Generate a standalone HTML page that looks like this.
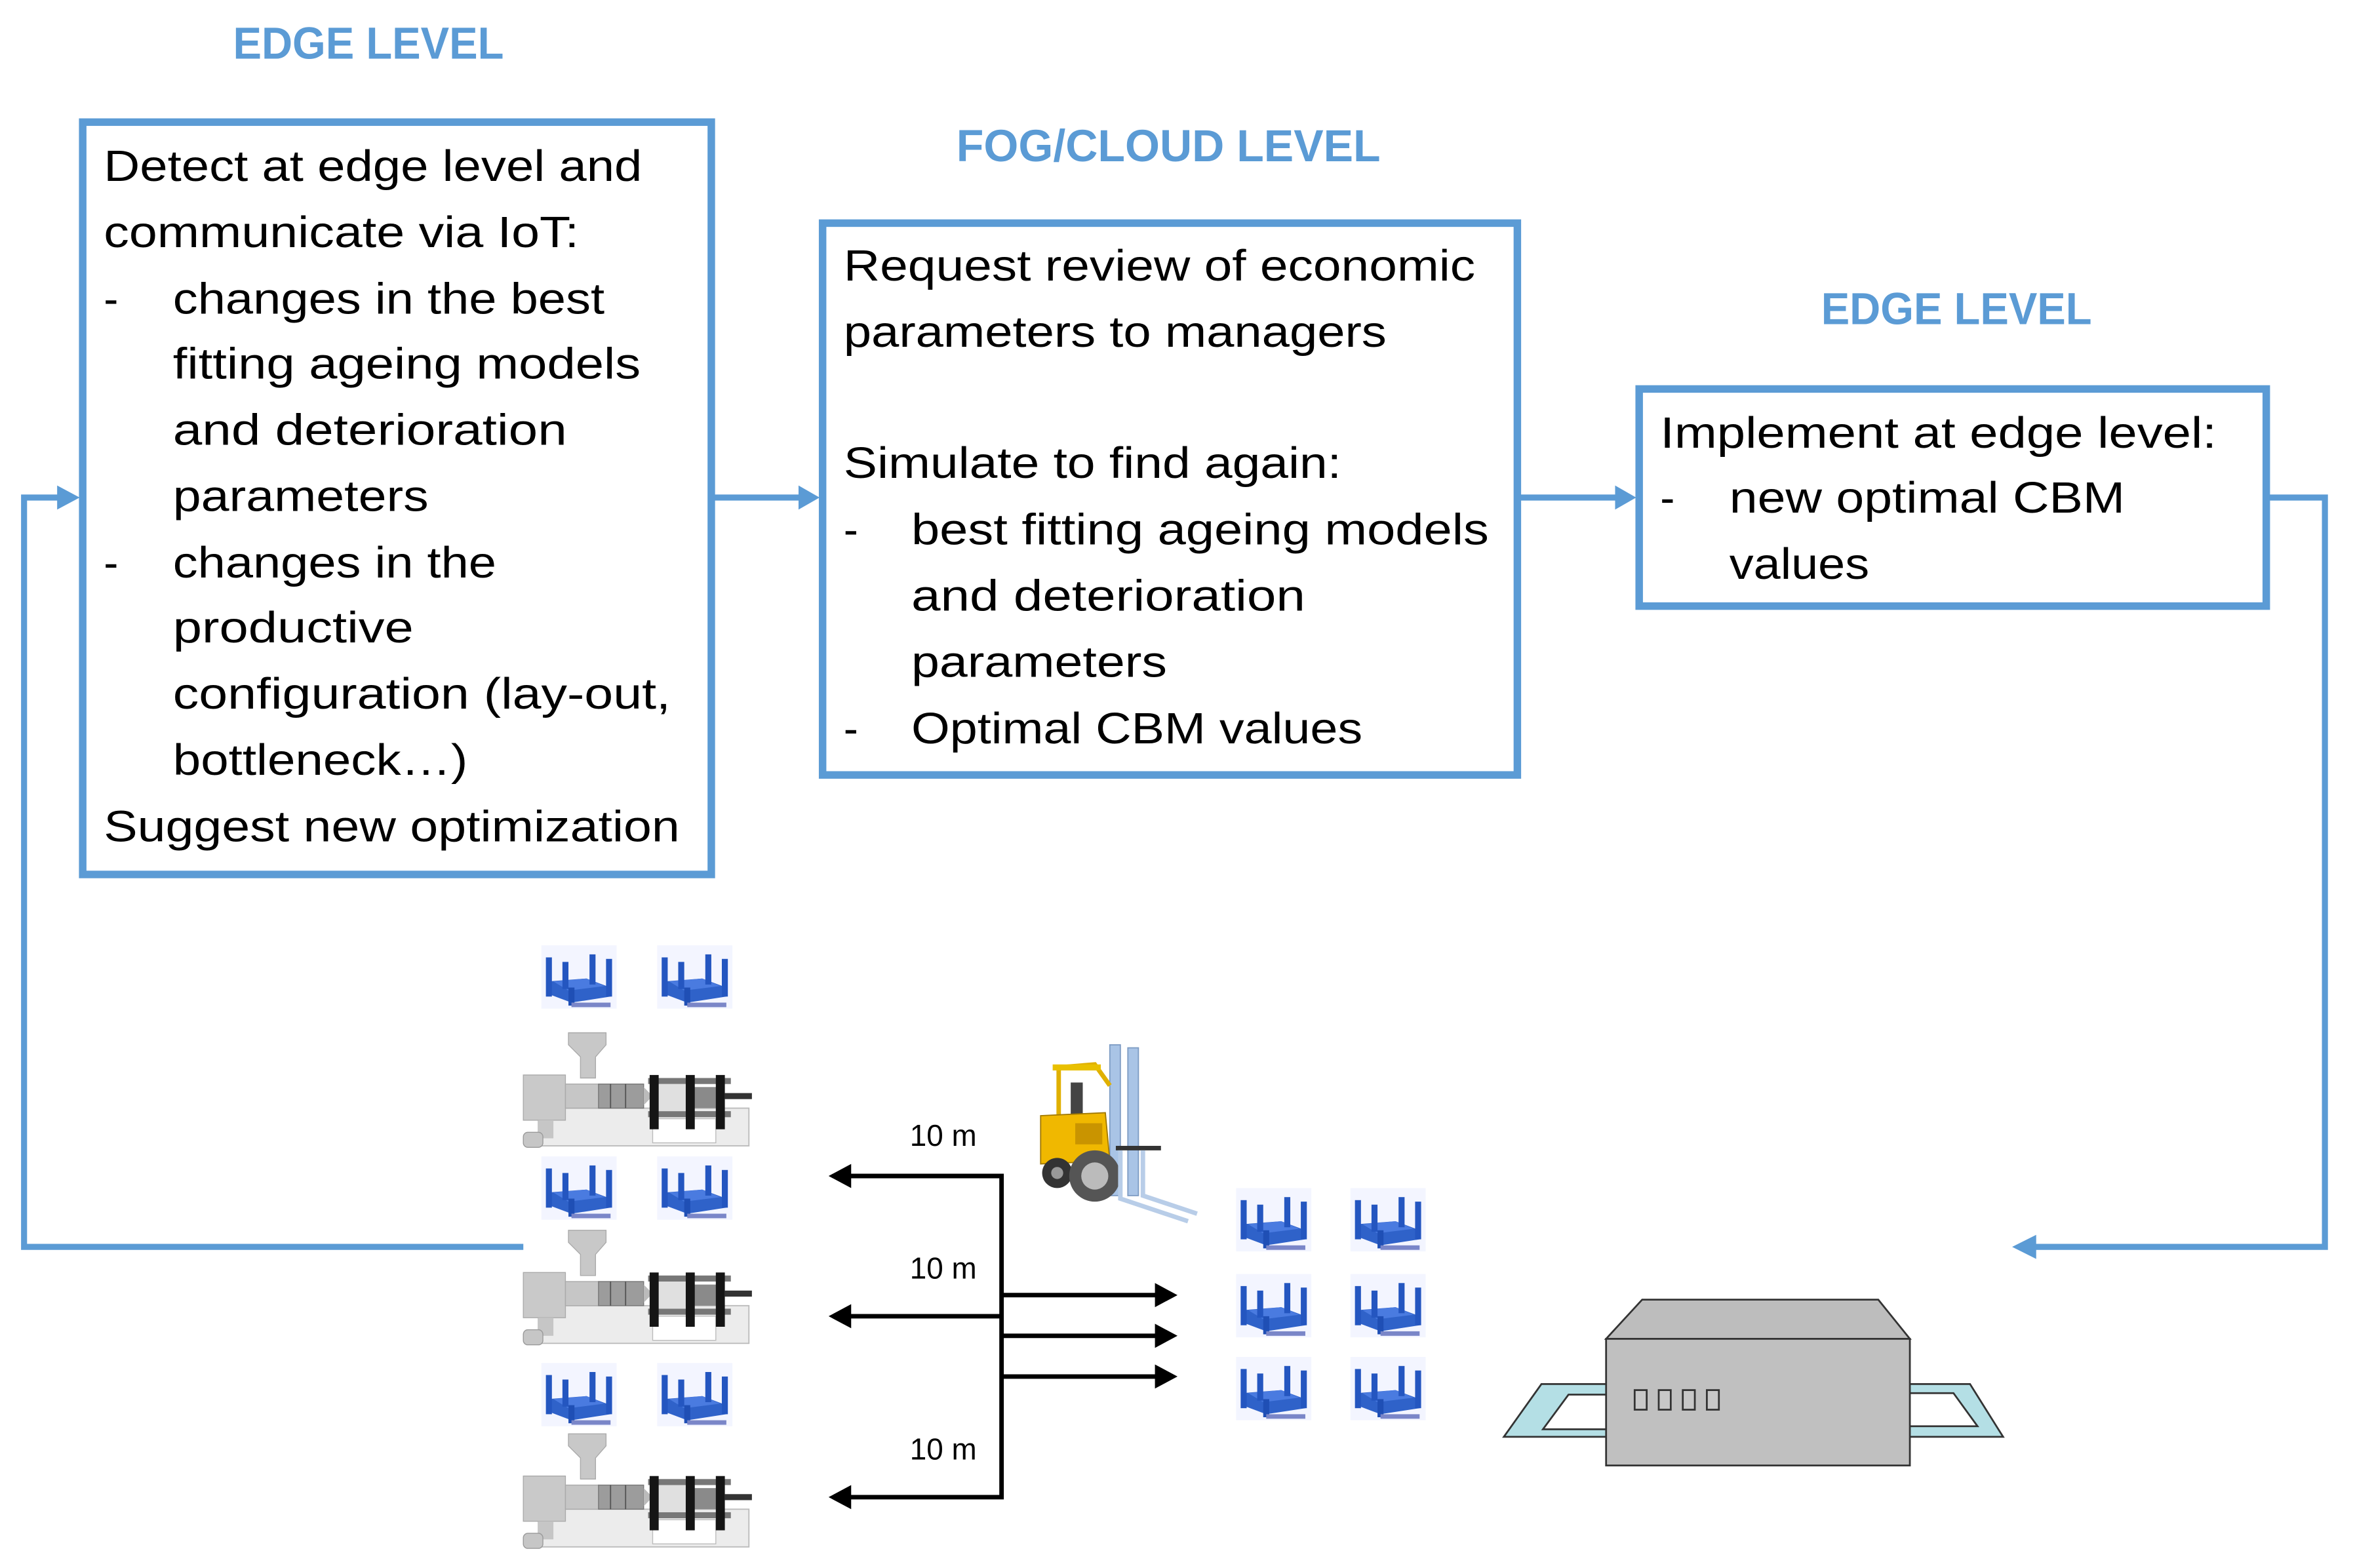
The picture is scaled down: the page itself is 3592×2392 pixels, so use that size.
<!DOCTYPE html>
<html><head><meta charset="utf-8"><style>
html,body{margin:0;padding:0;background:#fff;}
svg{display:block;}
text{font-family:"Liberation Sans",sans-serif;}
</style></head><body>
<svg width="3592" height="2392" viewBox="0 0 1566 1040" preserveAspectRatio="none" xmlns="http://www.w3.org/2000/svg">
<defs>
<g id="pal">
 <rect x="0" y="0" width="50" height="42" fill="#f3f5ff"/>
 <polygon points="4,24 30,22 46,28 46,34 20,38 4,32" fill="#2f62c9"/>
 <polygon points="8,24 30,22 42,27 18,30" fill="#4a7be0"/>
 <rect x="3" y="8" width="4" height="26" fill="#2456c0"/>
 <rect x="14" y="11" width="4" height="18" fill="#2456c0"/>
 <rect x="32" y="6" width="4" height="20" fill="#2456c0"/>
 <rect x="43" y="9" width="4" height="25" fill="#2456c0"/>
 <rect x="18" y="28" width="4" height="12" fill="#1f4fb5"/>
 <rect x="20" y="38" width="26" height="3" fill="#7a86c8"/>
</g>
<g id="mac">
 <polygon points="30,0 55,0 55,8 48,16 48,30 38,30 38,16 30,8" fill="#c8c8c8" stroke="#aaa" stroke-width="0.6"/>
 <rect x="10" y="50" width="140" height="25" fill="#ececec" stroke="#bbb" stroke-width="0.8"/>
 <rect x="86" y="57" width="42" height="16" fill="#fff" stroke="#bbb" stroke-width="0.6"/>
 <rect x="0" y="28" width="28" height="30" fill="#c9c9c9" stroke="#aaa" stroke-width="0.6"/>
 <rect x="10" y="58" width="10" height="12" fill="#c6c6c6"/>
 <rect x="0" y="66" width="13" height="10" rx="3" fill="#c6c6c6" stroke="#999" stroke-width="0.6"/>
 <rect x="28" y="34" width="22" height="16" fill="#c6c6c6" stroke="#aaa" stroke-width="0.6"/>
 <rect x="50" y="34" width="30" height="16" fill="#9c9c9c" stroke="#777" stroke-width="0.6"/>
 <line x1="58" y1="34" x2="58" y2="50" stroke="#555" stroke-width="0.8"/>
 <line x1="68" y1="34" x2="68" y2="50" stroke="#555" stroke-width="0.8"/>
 <polygon points="80,36 86,42 80,48" fill="#bbb"/>
 <rect x="83" y="30" width="55" height="4" fill="#777"/>
 <rect x="83" y="52" width="55" height="4" fill="#777"/>
 <rect x="88" y="34" width="20" height="18" fill="#e0e0e0"/>
 <rect x="108" y="36" width="22" height="14" fill="#8a8a8a"/>
 <rect x="84" y="28" width="6" height="36" fill="#151515"/>
 <rect x="108" y="28" width="6" height="36" fill="#151515"/>
 <rect x="128" y="28" width="6" height="36" fill="#151515"/>
 <rect x="134" y="40" width="18" height="4" fill="#333"/>
</g>
</defs>

<g font-weight="bold" fill="#5B9BD5" font-size="30">
<text x="155" y="39" textLength="180" lengthAdjust="spacingAndGlyphs">EDGE LEVEL</text>
<text x="636" y="107" textLength="282" lengthAdjust="spacingAndGlyphs">FOG/CLOUD LEVEL</text>
<text x="1211" y="215" textLength="180" lengthAdjust="spacingAndGlyphs">EDGE LEVEL</text>
</g>

<g fill="none" stroke="#5B9BD5" stroke-width="5">
<rect x="55" y="81" width="418" height="499"/>
<rect x="547" y="148" width="462" height="366"/>
<rect x="1090" y="258" width="417" height="144"/>
</g>

<g font-size="29" fill="#000">
<text x="69" y="120" textLength="358" lengthAdjust="spacingAndGlyphs">Detect at edge level and</text>
<text x="69" y="164" textLength="316" lengthAdjust="spacingAndGlyphs">communicate via IoT:</text>
<text x="69" y="208">-</text>
<text x="115" y="208" textLength="287" lengthAdjust="spacingAndGlyphs">changes in the best</text>
<text x="115" y="251" textLength="311" lengthAdjust="spacingAndGlyphs">fitting ageing models</text>
<text x="115" y="295" textLength="262" lengthAdjust="spacingAndGlyphs">and deterioration</text>
<text x="115" y="339" textLength="170" lengthAdjust="spacingAndGlyphs">parameters</text>
<text x="69" y="383">-</text>
<text x="115" y="383" textLength="215" lengthAdjust="spacingAndGlyphs">changes in the</text>
<text x="115" y="426" textLength="160" lengthAdjust="spacingAndGlyphs">productive</text>
<text x="115" y="470" textLength="331" lengthAdjust="spacingAndGlyphs">configuration (lay-out,</text>
<text x="115" y="514" textLength="196" lengthAdjust="spacingAndGlyphs">bottleneck…)</text>
<text x="69" y="558" textLength="383" lengthAdjust="spacingAndGlyphs">Suggest new optimization</text>

<text x="561" y="186" textLength="420" lengthAdjust="spacingAndGlyphs">Request review of economic</text>
<text x="561" y="230" textLength="361" lengthAdjust="spacingAndGlyphs">parameters to managers</text>
<text x="561" y="317" textLength="331" lengthAdjust="spacingAndGlyphs">Simulate to find again:</text>
<text x="561" y="361">-</text>
<text x="606" y="361" textLength="384" lengthAdjust="spacingAndGlyphs">best fitting ageing models</text>
<text x="606" y="405" textLength="262" lengthAdjust="spacingAndGlyphs">and deterioration</text>
<text x="606" y="449" textLength="170" lengthAdjust="spacingAndGlyphs">parameters</text>
<text x="561" y="493">-</text>
<text x="606" y="493" textLength="300" lengthAdjust="spacingAndGlyphs">Optimal CBM values</text>

<text x="1104" y="297" textLength="370" lengthAdjust="spacingAndGlyphs">Implement at edge level:</text>
<text x="1104" y="340">-</text>
<text x="1150" y="340" textLength="263" lengthAdjust="spacingAndGlyphs">new optimal CBM</text>
<text x="1150" y="384" textLength="93" lengthAdjust="spacingAndGlyphs">values</text>
</g>

<g stroke="#5B9BD5" stroke-width="4" fill="none">
<polyline points="475,330 533,330"/>
<polyline points="1011,330 1076,330"/>
<polyline points="1509,330 1546,330 1546,827 1352,827"/>
<polyline points="348,827 16,827 16,330 40,330"/>
</g>
<g fill="#5B9BD5">
<polygon points="545,330 531,322 531,338"/>
<polygon points="1088,330 1074,322 1074,338"/>
<polygon points="1338,827 1354,819 1354,835"/>
<polygon points="53,330 38,322 38,338"/>
</g>

<g stroke="#000" stroke-width="3" fill="none">
<polyline points="564,780 666,780 666,993 564,993"/>
<line x1="564" y1="873" x2="666" y2="873"/>
<line x1="666" y1="859" x2="770" y2="859"/>
<line x1="666" y1="886" x2="770" y2="886"/>
<line x1="666" y1="913" x2="770" y2="913"/>
</g>
<g fill="#000">
<polygon points="551,780 566,772 566,788"/>
<polygon points="551,873 566,865 566,881"/>
<polygon points="551,993 566,985 566,1001"/>
<polygon points="783,859 768,851 768,867"/>
<polygon points="783,886 768,878 768,894"/>
<polygon points="783,913 768,905 768,921"/>
</g>
<g font-size="20" fill="#000">
<text x="605" y="760">10 m</text>
<text x="605" y="848">10 m</text>
<text x="605" y="968">10 m</text>
</g>

<use href="#pal" x="360" y="627"/><use href="#pal" x="437" y="627"/>
<use href="#pal" x="360" y="767"/><use href="#pal" x="437" y="767"/>
<use href="#pal" x="360" y="904"/><use href="#pal" x="437" y="904"/>
<use href="#pal" x="822" y="788"/><use href="#pal" x="898" y="788"/>
<use href="#pal" x="822" y="845"/><use href="#pal" x="898" y="845"/>
<use href="#pal" x="822" y="900"/><use href="#pal" x="898" y="900"/>

<use href="#mac" x="348" y="685"/>
<use href="#mac" x="348" y="816"/>
<use href="#mac" x="348" y="951"/>

<g>
<rect x="738" y="693" width="7" height="100" fill="#a9c4e6" stroke="#7e9cc4" stroke-width="0.8"/>
<rect x="750" y="695" width="7" height="98" fill="#a9c4e6" stroke="#7e9cc4" stroke-width="0.8"/>
<polyline points="704,745 704,708 728,706 738,720" fill="none" stroke="#e0b000" stroke-width="3"/>
<rect x="700" y="706" width="32" height="4" fill="#e9c000"/>
<rect x="712" y="718" width="8" height="22" fill="#444"/>
<polygon points="692,740 735,738 738,770 692,772" fill="#f0b800" stroke="#a07800" stroke-width="0.8"/>
<rect x="715" y="745" width="18" height="14" fill="#c99400"/>
<circle cx="703" cy="778" r="10" fill="#333"/>
<circle cx="703" cy="778" r="4" fill="#999"/>
<circle cx="728" cy="780" r="17" fill="#555"/>
<circle cx="728" cy="780" r="9" fill="#bbb"/>
<rect x="742" y="760" width="30" height="3" fill="#333"/>
<polyline points="745,763 745,795 790,810" fill="none" stroke="#b8cde8" stroke-width="3"/>
<polyline points="760,763 760,793 796,805" fill="none" stroke="#b8cde8" stroke-width="3"/>
</g>

<g stroke="#333" stroke-width="1.2">
<polygon points="1000,953 1025,918 1075,918 1075,925 1043,925 1026,948 1075,948 1075,953" fill="#b4dfe5"/>
<polygon points="1332,953 1310,918 1268,918 1268,924 1299,924 1315,946 1268,946 1268,953" fill="#b4dfe5"/>
<polygon points="1068,888 1092,862 1249,862 1270,888" fill="#bdbdbd"/>
<rect x="1068" y="888" width="202" height="84" fill="#c0c0c0"/>
</g>
<g fill="#c8c8c8" stroke="#333" stroke-width="1.2">
<rect x="1087" y="922" width="8" height="13"/>
<rect x="1103" y="922" width="8" height="13"/>
<rect x="1119" y="922" width="8" height="13"/>
<rect x="1135" y="922" width="8" height="13"/>
</g>
</svg>
</body></html>
